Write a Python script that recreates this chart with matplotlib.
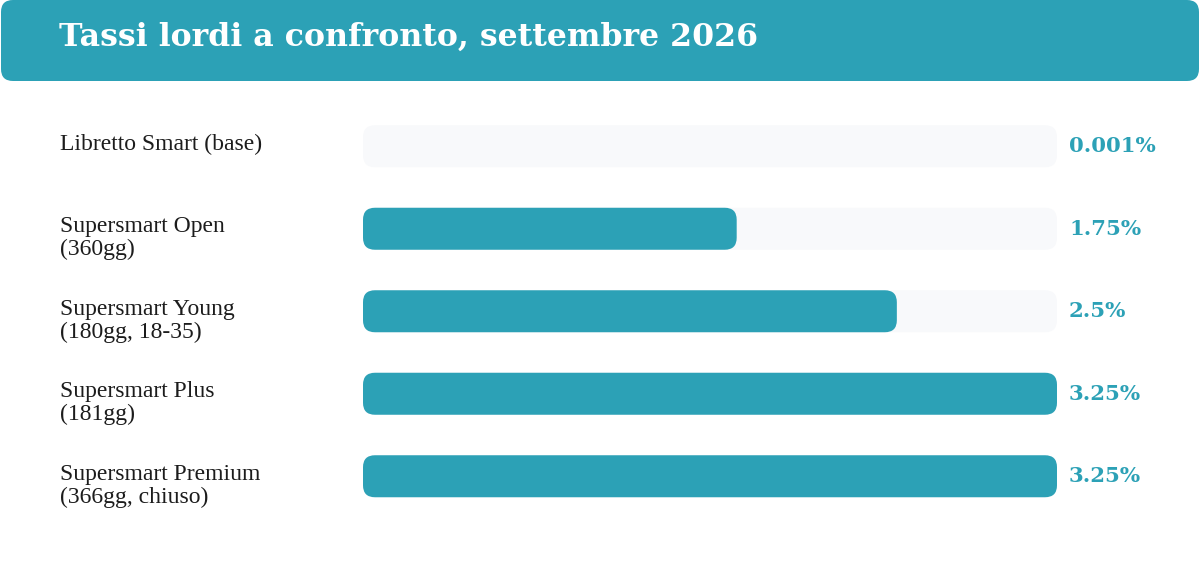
import matplotlib
matplotlib.use("Agg")
import matplotlib.pyplot as plt
from matplotlib.patches import FancyBboxPatch

# ---- data ----
title = "Tassi lordi a confronto, settembre 2026"
categories = [
    "Libretto Smart (base)",
    "Supersmart Open\n(360gg)",
    "Supersmart Young\n(180gg, 18-35)",
    "Supersmart Plus\n(181gg)",
    "Supersmart Premium\n(366gg, chiuso)",
]
rates = [0.001, 1.75, 2.5, 3.25, 3.25]
rate_labels = ["0.001%", "1.75%", "2.5%", "3.25%", "3.25%"]
scale_max = 3.25

TEAL = "#2ca1b6"
TRACK = "#f8f9fb"
TEXT = "#1c1c1c"

W, H = 1200, 565
fig = plt.figure(figsize=(W / 100, H / 100), dpi=100)
fig.patch.set_facecolor("white")

# background / banner axes in pixel coordinates
bg = fig.add_axes([0, 0, 1, 1])
bg.set_xlim(0, W)
bg.set_ylim(H, 0)
bg.axis("off")
bg.add_patch(FancyBboxPatch((1, 0), W - 2, 81,
                            boxstyle="round,pad=0,rounding_size=12",
                            fc=TEAL, ec="none"))
bg.text(59, 46, title, color="white", fontsize=22.8, fontweight="bold",
        family="DejaVu Serif", va="baseline", ha="left")

# bar axes
left_px, right_px = 363, 1057
top_px, bot_px = 105, 517.5
ax = fig.add_axes([left_px / W, 1 - bot_px / H,
                   (right_px - left_px) / W, (bot_px - top_px) / H])
n = len(categories)
ax.set_xlim(0, scale_max)
ax.set_ylim(n - 0.5, -0.5)
ax.axis("off")

px_x = abs(ax.transData.transform((1, 0))[0] - ax.transData.transform((0, 0))[0])
px_y = abs(ax.transData.transform((0, 1))[1] - ax.transData.transform((0, 0))[1])
bar_h = 42 / px_y
r_x = 12 / px_x
aspect = (1 / px_y) / (1 / px_x)

lab_x = (60 - left_px) / (right_px - left_px)
val_x = (1069 - left_px) / (right_px - left_px)
ytr = ax.get_yaxis_transform()

for i, (cat, v, lab) in enumerate(zip(categories, rates, rate_labels)):
    y0 = i - bar_h / 2
    ax.add_patch(FancyBboxPatch((0, y0), scale_max, bar_h,
                                boxstyle=f"round,pad=0,rounding_size={r_x}",
                                mutation_aspect=aspect, fc=TRACK, ec="none"))
    rr = min(r_x, v / 2)
    if v * px_x > 1:
        ax.add_patch(FancyBboxPatch((0, y0), v, bar_h,
                                    boxstyle=f"round,pad=0,rounding_size={rr}",
                                    mutation_aspect=aspect, fc=TEAL, ec="none"))
    for k, line in enumerate(cat.split("\n")):
        ax.text(lab_x, i + (3.5 + 23 * k) / px_y, line, transform=ytr,
                fontsize=17, family="Liberation Serif", color=TEXT,
                va="baseline", ha="left")
    ax.text(val_x, i + 6 / px_y, lab, transform=ytr, fontsize=15.3,
            fontweight="bold", family="DejaVu Serif", color=TEAL,
            va="baseline", ha="left")

fig.savefig("out.png", dpi=100, facecolor="white")
